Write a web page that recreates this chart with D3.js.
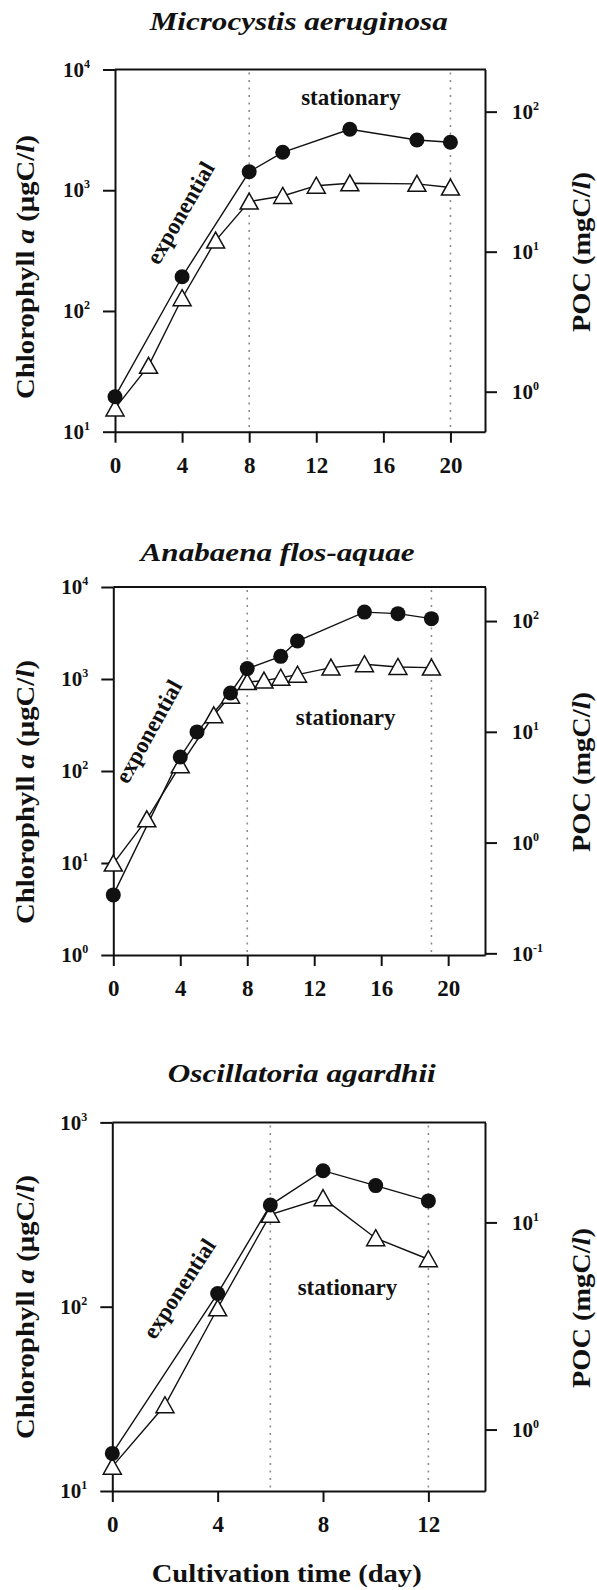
<!DOCTYPE html>
<html><head><meta charset="utf-8">
<script src="https://cdn.jsdelivr.net/npm/d3@7"></script>
<style>
body{margin:0;background:#fff}
svg{display:block;background:#fff}
text{font-family:"Liberation Serif","Times New Roman",serif;font-weight:bold;fill:#111}
</style>
</head><body>
<svg id="chart" width="597" height="1590"></svg>
<script>
// ---------- data ----------
const titles = ["Microcystis aeruginosa", "Anabaena flos-aquae", "Oscillatoria agardhii"];

// Panel 1: Microcystis aeruginosa
const p1ChlDays = [0, 4, 8, 10, 14, 18, 20];
const p1Chl     = [19.5, 192, 1422, 2061, 3200, 2607, 2494];
const p1PocDays = [0, 2, 4, 6, 8, 10, 12, 14, 18, 20];
const p1Poc     = [0.76, 1.53, 4.65, 12.0, 22.8, 25.0, 29.6, 30.8, 30.5, 28.7];

// Panel 2: Anabaena flos-aquae
const p2ChlDays = [0, 4, 5, 7, 8, 10, 11, 15, 17, 19];
const p2Chl     = [4.5, 142, 266, 705, 1297, 1763, 2588, 5337, 5130, 4530];
const p2PocDays = [0, 2, 4, 6, 7, 8, 9, 10, 11, 13, 15, 17, 19];
const p2Poc     = [0.646, 1.62, 4.98, 14.1, 21.2, 28.1, 29.0, 30.8, 32.8, 38.0, 40.8, 38.5, 38.0];

// Panel 3: Oscillatoria agardhii
const p3ChlDays = [0, 4, 6, 8, 10, 12];
const p3Chl     = [16.0, 118, 356, 547, 454, 375];
const p3PocDays = [0, 2, 4, 6, 8, 10, 12];
const p3Poc     = [0.662, 1.31, 3.85, 10.9, 13.1, 8.39, 6.64];

// axis domains and ticks
const xDomains   = [[0, 22.06], [0, 22.2], [0, 14.15]];
const chlDomains = [[10, 10000], [1, 10000], [10, 1000]];
const pocDomains = [[0.518, 200], [0.0966, 203], [0.505, 30.4]];
const chlTicks   = [[10, 100, 1000, 10000], [1, 10, 100, 1000, 10000], [10, 100, 1000]];
const pocTicks   = [[1, 10, 100], [0.1, 1, 10, 100], [1, 10]];
const xTicks     = [[0, 4, 8, 12, 16, 20], [0, 4, 8, 12, 16, 20], [0, 4, 8, 12]];
const phaseDays  = [[8, 20], [8, 19], [6, 12]];
// annotation anchors in data units: [day, chl]
const statPos = [[14.07, 5080], [13.88, 314], [8.93, 115.6]];
const expoPos = [[3.94, 644, -60], [2.15, 266, -61], [2.57, 124.7, -57]];

// ---------- layout ----------
const layout = [
  {top: 69.5, bottom: 431.7, left: 115, right: 485, titleX: 298.7, titleY: 30, titleW: 298, ylabY: 267, pocY: 252},
  {top: 587, bottom: 955, left: 113.3, right: 485, titleX: 277.6, titleY: 561, titleW: 274, ylabY: 792, pocY: 772},
  {top: 1122.4, bottom: 1491, left: 112.3, right: 485, titleX: 301.8, titleY: 1082, titleW: 268, ylabY: 1307, pocY: 1308}
];

const chlDays = [p1ChlDays, p2ChlDays, p3ChlDays];
const chlVals = [p1Chl, p2Chl, p3Chl];
const pocDays = [p1PocDays, p2PocDays, p3PocDays];
const pocVals = [p1Poc, p2Poc, p3Poc];

const svg = d3.select("#chart");
const INK = "#111";

function supLabels(sel, sup) {
  sel.selectAll(".tick text").each(function(d) {
    const t = d3.select(this);
    const e = Math.round(Math.log10(d));
    t.text("");
    t.append("tspan").text("10");
    t.append("tspan").attr("dy", -9).attr("font-size", 12).text(String(e));
  });
}

layout.forEach((L, i) => {
  const g = svg.append("g");
  const x = d3.scaleLinear().domain(xDomains[i]).range([L.left, L.right]);
  const yL = d3.scaleLog().domain(chlDomains[i]).range([L.bottom, L.top]);
  const yR = d3.scaleLog().domain(pocDomains[i]).range([L.bottom, L.top]);

  // dotted phase lines
  g.selectAll("line.phase").data(phaseDays[i]).enter().append("line")
    .attr("x1", d => x(d)).attr("x2", d => x(d))
    .attr("y1", L.top + 3).attr("y2", L.bottom - 3)
    .attr("stroke", "#8c8c8c").attr("stroke-width", 1.6)
    .attr("stroke-dasharray", "2,5.5");

  // axes
  const axL = g.append("g").attr("transform", `translate(${L.left},0)`)
    .call(d3.axisLeft(yL).tickValues(chlTicks[i]).tickSize(12).tickSizeOuter(0).tickPadding(13));
  const axR = g.append("g").attr("transform", `translate(${L.right},0)`)
    .call(d3.axisRight(yR).tickValues(pocTicks[i]).tickSize(12).tickSizeOuter(0).tickPadding(15));
  const axB = g.append("g").attr("transform", `translate(0,${L.bottom})`)
    .call(d3.axisBottom(x).tickValues(xTicks[i]).tickSize(11).tickSizeOuter(0).tickPadding(14).tickFormat(d3.format("d")));
  [axL, axR, axB].forEach(a => {
    a.attr("color", INK).attr("font-family", null).attr("font-size", null);
    a.selectAll("path.domain").attr("stroke-width", 2);
    a.selectAll(".tick line").attr("stroke-width", 2);
  });
  axL.selectAll(".tick text").attr("font-size", 21);
  axR.selectAll(".tick text").attr("font-size", 21);
  axB.selectAll(".tick text").attr("font-size", 23);
  supLabels(axL);
  supLabels(axR);
  // top border
  g.append("line").attr("x1", L.left).attr("x2", L.right + 1)
    .attr("y1", L.top).attr("y2", L.top).attr("stroke", INK).attr("stroke-width", 2);

  // series lines
  const chlPts = chlDays[i].map((d, k) => [d, chlVals[i][k]]);
  const pocPts = pocDays[i].map((d, k) => [d, pocVals[i][k]]);
  g.append("path").datum(pocPts)
    .attr("d", d3.line().x(d => x(d[0])).y(d => yR(d[1])))
    .attr("fill", "none").attr("stroke", INK).attr("stroke-width", 1.4);
  g.append("path").datum(chlPts)
    .attr("d", d3.line().x(d => x(d[0])).y(d => yL(d[1])))
    .attr("fill", "none").attr("stroke", INK).attr("stroke-width", 1.4);

  // markers: triangles (POC), then circles (Chl a) on top
  g.selectAll("path.tri").data(pocPts).enter().append("path")
    .attr("d", "M0,-8.5L9,7.5L-9,7.5Z")
    .attr("transform", d => `translate(${x(d[0])},${yR(d[1])})`)
    .attr("fill", "#fff").attr("stroke", INK).attr("stroke-width", 1.5);
  g.selectAll("circle.dot").data(chlPts).enter().append("circle")
    .attr("cx", d => x(d[0])).attr("cy", d => yL(d[1])).attr("r", 7.5)
    .attr("fill", INK);

  // annotations
  g.append("text").attr("x", x(statPos[i][0])).attr("y", yL(statPos[i][1]))
    .attr("text-anchor", "middle").attr("font-size", 23).text("stationary");
  const ex = x(expoPos[i][0]), ey = yL(expoPos[i][1]);
  g.append("text").attr("transform", `translate(${ex},${ey}) rotate(${expoPos[i][2]})`)
    .attr("text-anchor", "middle").attr("dy", "0.3em").attr("font-size", 23).text("exponential");

  // title
  g.append("text").attr("x", L.titleX).attr("y", L.titleY)
    .attr("text-anchor", "middle").attr("font-size", 26).attr("font-style", "italic")
    .attr("textLength", L.titleW).attr("lengthAdjust", "spacingAndGlyphs")
    .text(titles[i]);

  // left axis label
  const yl = g.append("text").attr("transform", `translate(25,${L.ylabY}) rotate(-90)`)
    .attr("text-anchor", "middle").attr("dy", "0.35em").attr("font-size", 25)
    .attr("textLength", 264).attr("lengthAdjust", "spacingAndGlyphs");
  yl.append("tspan").text("Chlorophyll ");
  yl.append("tspan").attr("font-style", "italic").text("a");
  yl.append("tspan").text(" (μgC/");
  yl.append("tspan").attr("font-style", "italic").text("l");
  yl.append("tspan").text(")");

  // right axis label
  const pl = g.append("text").attr("transform", `translate(581,${L.pocY}) rotate(-90)`)
    .attr("text-anchor", "middle").attr("dy", "0.35em").attr("font-size", 25)
    .attr("textLength", 160).attr("lengthAdjust", "spacingAndGlyphs");
  pl.append("tspan").text("POC (mgC/");
  pl.append("tspan").attr("font-style", "italic").text("l");
  pl.append("tspan").text(")");
});

// shared x-axis label
svg.append("text").attr("x", 286.7).attr("y", 1582).attr("text-anchor", "middle")
  .attr("font-size", 25).attr("textLength", 270).attr("lengthAdjust", "spacingAndGlyphs")
  .text("Cultivation time (day)");
</script>
</body></html>
